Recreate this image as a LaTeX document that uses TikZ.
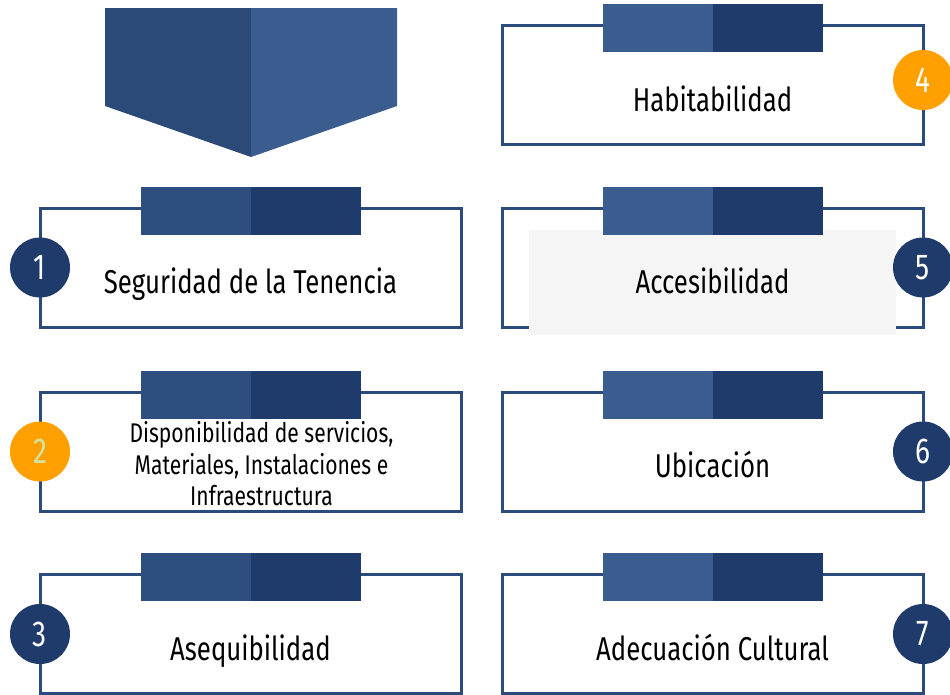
\documentclass[tikz,border=0pt]{standalone}
\usepackage{fontspec}
\setmainfont[FakeStretch=0.78]{Fira Sans}
\usetikzlibrary{calc}
\definecolor{azulosc}{HTML}{1F3B6B}
\definecolor{azulmed}{HTML}{2D4E7E}
\definecolor{azulcla}{HTML}{3A5C8F}
\definecolor{cuadro}{HTML}{2C4B7D}
\definecolor{naranja}{HTML}{FFA000}
\definecolor{gris}{HTML}{F5F5F5}
\definecolor{verdecla}{HTML}{D5E3A0}
\tikzset{
  marco/.style={draw=cuadro,line width=3pt,minimum width=421pt,minimum height=119pt,inner sep=0pt,outer sep=0pt},
  texto/.style={anchor=base,text=black,font=\fontsize{33}{36}\selectfont,inner sep=0pt},
  numero/.style={circle,fill=azulosc,minimum size=60pt,inner sep=0pt,text=white,font=\fontsize{36}{40}\selectfont}
}
\begin{document}
\begin{tikzpicture}[x=1pt,y=-1pt]
\useasboundingbox (0,0) rectangle (950,694);
% flecha
\fill[azulmed!95!black] (105,8) -- (251,8) -- (251,157) -- (105,106) -- cycle;
\fill[azulcla] (251,8) -- (397,8) -- (397,106) -- (251,157) -- cycle;
% cuadros
\node[marco] (b1) at (250.5,267.5) {};
\node[marco] (b2) at (250.5,451.5) {};
\node[marco] (b3) at (250.5,634) {};
\node[marco] (b4) at (712.5,85) {};
\node[marco] (b5) at (712.5,267.5) {};
\node[marco] (b6) at (712.5,451.5) {};
\node[marco] (b7) at (712.5,634) {};
\fill[gris] (529,230) rectangle (896,335);
% pestanas
\foreach \n in {b1,b2,b3}{
  \fill[azulmed] ($(\n.north)+(-110,-21.5)$) rectangle ($(\n.north)+(0,26.5)$);
  \fill[azulosc] ($(\n.north)+(0,-21.5)$) rectangle ($(\n.north)+(110,26.5)$);
}
\foreach \n in {b4,b5,b6,b7}{
  \fill[azulcla] ($(\n.north)+(-110,-21.5)$) rectangle ($(\n.north)+(0,26.5)$);
  \fill[azulosc] ($(\n.north)+(0,-21.5)$) rectangle ($(\n.north)+(110,26.5)$);
}
% textos
\node[texto] (t1) at ($(b1.north)+(0,85.5)$) {Seguridad de la Tenencia};
\node[texto,align=center,anchor=center,font=\fontsize{27}{31.5}\selectfont] (t2) at ($(b2.north)+(11,72)$) {Disponibilidad de servicios,\\Materiales, Instalaciones e\\Infraestructura};
\node[texto] (t3) at ($(b3.north)+(0,85.5)$) {Asequibilidad};
\node[texto] (t4) at ($(b4.north)+(0,85.5)$) {Habitabilidad};
\node[texto] (t5) at ($(b5.north)+(0,85.5)$) {Accesibilidad};
\node[texto] (t6) at ($(b6.north)+(0,85.5)$) {Ubicación};
\node[texto] (t7) at ($(b7.north)+(0,85.5)$) {Adecuación Cultural};
% numeros
\node[numero] (n1) at (b1.west) {1};
\node[numero,fill=naranja,text=verdecla] (n2) at (b2.west) {2};
\node[numero] (n3) at (b3.west) {3};
\node[numero,fill=naranja] (n4) at ($(b4.east)+(0,-5)$) {4};
\node[numero] (n5) at (b5.east) {5};
\node[numero] (n6) at (b6.east) {6};
\node[numero] (n7) at (b7.east) {7};
\end{tikzpicture}
\end{document}
